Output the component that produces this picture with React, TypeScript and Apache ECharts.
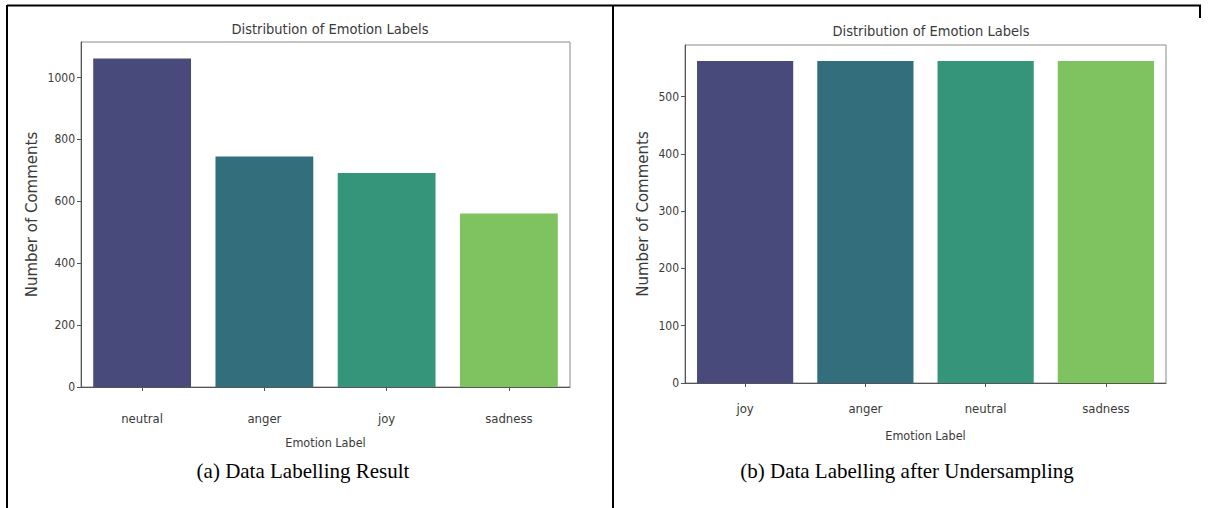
import React, { useEffect, useRef } from "react";
import * as echarts from "echarts";

const leftCategories = ["neutral", "anger", "joy", "sadness"];
const leftValues = [1062, 745, 692, 561];
const rightCategories = ["joy", "anger", "neutral", "sadness"];
const rightValues = [562, 562, 562, 562];
const barColors = ["#484a7c", "#336e7d", "#35957a", "#7ec35f"];
const chartTitle = "Distribution of Emotion Labels";
const yAxisTitle = "Number of Comments";
const xAxisTitle = "Emotion Label";
const captionA = "(a) Data Labelling Result";
const captionB = "(b) Data Labelling after Undersampling";

const condensed = "'DejaVu Sans Condensed', 'DejaVu Sans', sans-serif";
const textGray = "#3a3a3a";
const spine = "#8a8a8a";

export default function App() {
  const ref = useRef<HTMLDivElement>(null);
  useEffect(() => {
    document.body.style.margin = "0";
    const chart = echarts.init(ref.current!, undefined, { renderer: "svg" });
    const xAxisCommon = (idx: number, cats: string[], labelMargin: number, nameGap: number) => ({
      type: "category",
      gridIndex: idx,
      data: cats,
      name: xAxisTitle,
      nameLocation: "middle",
      nameGap,
      nameTextStyle: { fontFamily: condensed, fontSize: 12.5, color: textGray },
      axisLine: { show: true, lineStyle: { color: "#555", width: 1 } },
      axisTick: { show: true, alignWithLabel: true, length: 4, lineStyle: { color: "#555" } },
      axisLabel: { fontFamily: condensed, fontSize: 13, color: textGray, margin: labelMargin },
    });
    const yAxisCommon = (idx: number, max: number, interval: number, nameGap: number) => ({
      type: "value",
      gridIndex: idx,
      min: 0,
      max,
      interval,
      name: yAxisTitle,
      nameLocation: "middle",
      nameRotate: 90,
      nameGap,
      nameTextStyle: { fontFamily: "'DejaVu Sans', sans-serif", fontSize: 15, color: textGray },
      axisLine: { show: true, lineStyle: { color: "#555", width: 1 } },
      axisTick: { show: true, length: 4, lineStyle: { color: "#555" } },
      splitLine: { show: false },
      axisLabel: {
        fontFamily: condensed,
        fontSize: 12,
        color: textGray,
        margin: 6,
        showMaxLabel: false,
        formatter: (v: number) => String(v),
      },
    });
    chart.setOption({
      animation: false,
      backgroundColor: "#ffffff",
      title: [
        {
          text: chartTitle,
          left: 325,
          top: 16,
          textAlign: "center",
          textStyle: { fontFamily: condensed, fontSize: 14.5, fontWeight: "normal", color: textGray },
        },
        {
          text: chartTitle,
          left: 926,
          top: 18,
          textAlign: "center",
          textStyle: { fontFamily: condensed, fontSize: 14.5, fontWeight: "normal", color: textGray },
        },
      ],
      grid: [
        { left: 81, top: 42, width: 489, height: 345, show: true, borderColor: spine, borderWidth: 1, backgroundColor: "transparent" },
        { left: 685, top: 45, width: 481, height: 338, show: true, borderColor: spine, borderWidth: 1, backgroundColor: "transparent" },
      ],
      xAxis: [xAxisCommon(0, leftCategories, 25, 49), xAxisCommon(1, rightCategories, 19, 46)],
      yAxis: [yAxisCommon(0, 1115, 200, 42), yAxisCommon(1, 590, 100, 35)],
      series: [
        {
          type: "bar",
          xAxisIndex: 0,
          yAxisIndex: 0,
          barCategoryGap: "20%",
          data: leftValues.map((v, i) => ({ value: v, itemStyle: { color: barColors[i] } })),
        },
        {
          type: "bar",
          xAxisIndex: 1,
          yAxisIndex: 1,
          barCategoryGap: "20%",
          data: rightValues.map((v, i) => ({ value: v, itemStyle: { color: barColors[i] } })),
        },
      ],
      graphic: [
        { type: "line", shape: { x1: 7, y1: 5.5, x2: 1201, y2: 5.5 }, style: { stroke: "#000", lineWidth: 2 } },
        { type: "line", shape: { x1: 7, y1: 5, x2: 7, y2: 508 }, style: { stroke: "#000", lineWidth: 2 } },
        { type: "line", shape: { x1: 613, y1: 5, x2: 613, y2: 508 }, style: { stroke: "#000", lineWidth: 2 } },
        { type: "line", shape: { x1: 1200, y1: 5, x2: 1200, y2: 18 }, style: { stroke: "#000", lineWidth: 2 } },
        {
          type: "text",
          x: 303,
          y: 471,
          style: {
            text: captionA,
            font: "21px 'Liberation Serif', 'Times New Roman', serif",
            fill: "#000",
            align: "center",
            verticalAlign: "middle",
          },
        },
        {
          type: "text",
          x: 907,
          y: 471,
          style: {
            text: captionB,
            font: "21px 'Liberation Serif', 'Times New Roman', serif",
            fill: "#000",
            align: "center",
            verticalAlign: "middle",
          },
        },
      ],
    });
    return () => chart.dispose();
  }, []);
  return (
    <div
      ref={ref}
      style={{ position: "absolute", left: 0, top: 0, width: 1208, height: 508 }}
    />
  );
}
